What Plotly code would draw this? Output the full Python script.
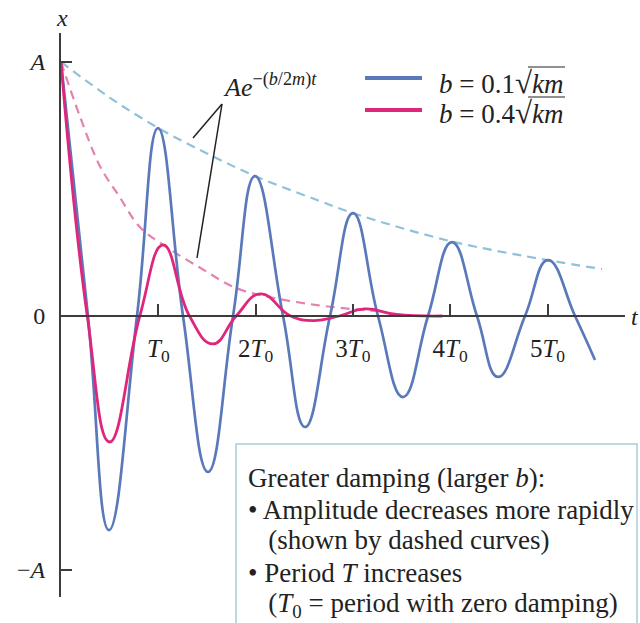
import plotly.graph_objects as go

# ---- data (t in units of T0, x in units of A) ----
t_blue = [0, 0.277, 0.493, 0.781, 0.997, 1.254, 1.511, 1.768, 1.994, 2.282, 2.508,
          2.765, 3.001, 3.258, 3.515, 3.772, 4.018, 4.275, 4.491, 4.769, 5.005, 5.283, 5.488]
x_blue = [1.0, 0, -0.843, 0, 0.74, 0, -0.614, 0, 0.551, 0, -0.437,
          0, 0.405, 0, -0.319, 0, 0.291, 0, -0.240, 0, 0.220, 0, -0.173]

t_pink = [0, 0.27, 0.50, 0.81, 1.05, 1.32, 1.56, 1.80, 2.05, 2.36, 2.60, 2.86, 3.12, 3.45, 3.92]
x_pink = [1.0, 0, -0.496, 0, 0.28, 0, -0.11, 0, 0.087, 0, -0.018, 0, 0.028, 0.006, 0]

t_env_blue = [0, 0.5, 1.0, 1.5, 2.0, 2.63, 3.0, 4.0, 5.0, 5.56]
x_env_blue = [1.0, 0.86, 0.74, 0.64, 0.55, 0.457, 0.405, 0.295, 0.22, 0.185]

t_env_pink = [0, 0.2, 0.4, 0.6, 0.81, 1.05, 1.43, 1.8, 2.2, 2.63, 3.0, 3.3]
x_env_pink = [1.0, 0.78, 0.59, 0.47, 0.35, 0.28, 0.19, 0.11, 0.07, 0.043, 0.027, 0.018]

x_tickvals = [1, 2, 3, 4, 5]
x_ticktext = ["<i>T</i><sub>0</sub>", "2<i>T</i><sub>0</sub>", "3<i>T</i><sub>0</sub>",
              "4<i>T</i><sub>0</sub>", "5<i>T</i><sub>0</sub>"]
y_tickvals = [-1, 0, 1]
y_ticktext = ["−<i>A</i>", "0", "<i>A</i>"]

legend_labels = ["<i>b</i> = 0.1<span style='font-size:31px'>√</span><i>km</i>",
                 "<i>b</i> = 0.4<span style='font-size:31px'>√</span><i>km</i>"]
box_lines = ["Greater damping (larger <i>b</i>):",
             "• Amplitude decreases more rapidly",
             "   (shown by dashed curves)",
             "• Period <i>T</i> increases",
             "   (<i>T</i><sub>0</sub> = period with zero damping)"]

BLUE = "#5a79bb"
PINK = "#e0267c"
BLUE_D = "#8fc2da"
PINK_D = "#e383b0"
AXC = "#3c3c3c"
TXT = "#222222"
FONT = "Liberation Serif"

W, H = 640, 623
def px(x):
    return x / W
def py(y):
    return (H - y) / H

fig = go.Figure()
fig.add_trace(go.Scatter(x=t_env_blue, y=x_env_blue, mode="lines",
                         line=dict(color=BLUE_D, width=2.2, dash="9px,6px", shape="spline"),
                         showlegend=False, hoverinfo="skip"))
fig.add_trace(go.Scatter(x=t_env_pink, y=x_env_pink, mode="lines",
                         line=dict(color=PINK_D, width=2.2, dash="9px,6px", shape="spline"),
                         showlegend=False, hoverinfo="skip"))
fig.add_trace(go.Scatter(x=t_blue, y=x_blue, mode="lines",
                         line=dict(color=BLUE, width=2.7, shape="spline", smoothing=1.3),
                         showlegend=False))
fig.add_trace(go.Scatter(x=t_pink, y=x_pink, mode="lines",
                         line=dict(color=PINK, width=2.8, shape="spline", smoothing=1.3),
                         showlegend=False))

x0px, x1px = 61, 625
y0px, y1px = 597, 33
T0px = 97.3
Apx = 254
zero_y = 316
xr = [0, (x1px - x0px) / T0px]
yr = [(zero_y - y0px) / Apx, (zero_y - y1px) / Apx]

fig.update_layout(
    width=W, height=H, margin=dict(l=0, r=0, t=0, b=0),
    paper_bgcolor="white", plot_bgcolor="white",
    font=dict(family=FONT, size=22, color=TXT),
    xaxis=dict(domain=[px(x0px), px(x1px)], range=xr, showgrid=False, zeroline=False,
               showline=True, linecolor=AXC, linewidth=2,
               anchor="free", position=py(zero_y),
               tickvals=x_tickvals, ticktext=x_ticktext, ticks="inside", ticklen=11,
               tickwidth=1.5, tickcolor=AXC, ticklabelstandoff=10,
               tickfont=dict(family=FONT, size=25, color=TXT)),
    yaxis=dict(domain=[py(y0px), py(y1px)], range=yr, showgrid=False, zeroline=False,
               showline=True, linecolor=AXC, linewidth=2, anchor="x",
               tickvals=y_tickvals, ticktext=y_ticktext, ticks="inside", ticklen=11,
               tickwidth=1.5, tickcolor=AXC, ticklabelstandoff=9,
               tickfont=dict(family=FONT, size=24, color=TXT)),
)

ann = []
ann.append(dict(x=px(62), y=py(18), xref="paper", yref="paper", text="<i>x</i>",
                xanchor="center", yanchor="middle", showarrow=False, font=dict(size=24)))
ann.append(dict(x=px(635), y=py(317), xref="paper", yref="paper", text="<i>t</i>",
                xanchor="center", yanchor="middle", showarrow=False, font=dict(size=24)))
ann.append(dict(x=px(221), y=py(86), xref="paper", yref="paper", xanchor="left",
                yanchor="middle",
                text="<i>Ae</i><sup>−(<i>b</i>/2<i>m</i>)<i>t</i></sup>",
                showarrow=False, font=dict(size=26)))
# legend
for lab, col, yy, yt in [(legend_labels[0], BLUE, 78, 82), (legend_labels[1], PINK, 110, 112)]:
    fig.add_shape(type="line", xref="paper", yref="paper", x0=px(365), x1=px(422),
                  y0=py(yy), y1=py(yy), line=dict(color=col, width=4))
    ann.append(dict(x=px(437), y=py(yt), xref="paper", yref="paper", xanchor="left",
                    yanchor="middle", text=lab, showarrow=False, font=dict(size=27)))
    fig.add_shape(type="line", xref="paper", yref="paper", x0=px(528), x1=px(565),
                  y0=py(yt - 15), y1=py(yt - 15), line=dict(color=TXT, width=1.2))
# pointer lines
for (xa, ya) in [(193, 138), (197, 258)]:
    fig.add_shape(type="line", xref="paper", yref="paper", x0=px(222), y0=py(104),
                  x1=px(xa), y1=py(ya), line=dict(color=TXT, width=1.5))
# text box
fig.add_shape(type="rect", xref="paper", yref="paper", x0=px(236), x1=px(637),
              y0=py(444), y1=py(640), line=dict(color="#a6cddc", width=1.5),
              fillcolor="white", layer="below")
for line, yy in zip(box_lines, [478, 510, 540, 573, 605]):
    ann.append(dict(x=px(246), y=py(yy), xref="paper", yref="paper", xanchor="left",
                    yanchor="middle", text=line, showarrow=False, font=dict(size=27)))
fig.update_layout(annotations=ann)

fig.write_html("out.html", config={"displayModeBar": False},
               post_script="document.body.style.margin='0';")
